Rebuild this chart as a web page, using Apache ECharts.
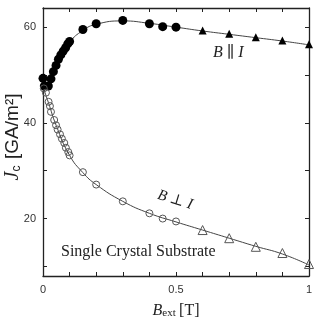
<!DOCTYPE html>
<html>
<head>
<meta charset="utf-8">
<script src="https://cdn.jsdelivr.net/npm/echarts@6/dist/echarts.min.js"></script>
<style>
  html, body { margin: 0; padding: 0; background: #fff; }
  #chart { width: 317px; height: 317px; }
</style>
</head>
<body>
<div id="chart"></div>
<script>
// B || I : filled circles (low field) and filled triangles (high field)
var parCircB = [0, 0.005, 0.02, 0.03, 0.039, 0.049, 0.058, 0.067, 0.076, 0.085, 0.093, 0.1, 0.15, 0.2, 0.3, 0.4, 0.45, 0.5];
var parCircJ = [49.3, 47.7, 47.7, 49.2, 50.7, 52.0, 53.3, 54.2, 55.0, 55.7, 56.5, 57.0, 59.5, 60.7, 61.4, 60.7, 60.1, 60.0];
var parTriB = [0.6, 0.7, 0.8, 0.9, 1.0];
var parTriJ = [59.3, 58.6, 57.9, 57.2, 56.4];

// B perp I : open circles and open triangles
var perpCircB = [0.003, 0.011, 0.021, 0.026, 0.03, 0.042, 0.049, 0.055, 0.064, 0.071, 0.08, 0.086, 0.095, 0.1, 0.15, 0.2, 0.3, 0.4, 0.45, 0.5];
var perpCircJ = [47.2, 46.3, 44.4, 43.5, 42.3, 40.6, 39.5, 38.6, 37.6, 36.7, 35.8, 34.8, 33.9, 33.2, 29.7, 27.1, 23.6, 21.1, 20.0, 19.4];
var perpTriB = [0.6, 0.7, 0.8, 0.9, 1.0];
var perpTriJ = [17.6, 15.9, 14.1, 12.8, 10.5];

// fit curves
var fitB = [0, 0.02, 0.05, 0.1, 0.15, 0.2, 0.3, 0.4, 0.5, 0.6, 0.7, 0.8, 0.9, 1.0];
var fitParJ = [47.5, 48.0, 52.0, 56.8, 59.3, 60.6, 61.3, 60.8, 60.0, 59.2, 58.5, 57.8, 57.1, 56.3];
var fitPerpJ = [47.5, 44.3, 39.4, 33.2, 29.6, 27.1, 23.6, 21.1, 19.3, 17.6, 15.9, 14.2, 12.6, 10.3];

var xLabels = [0, 0.5, 1];
var yTicks = [10, 20, 30, 40, 50, 60];
var yLabels = [20, 40, 60];

function pairs(xs, ys) {
  return xs.map(function (x, i) { return [x, ys[i]]; });
}

var serif = '"Liberation Serif", "DejaVu Serif", serif';
var sans = '"Liberation Sans", Arial, sans-serif';

var dom = document.getElementById('chart');
var myChart = echarts.init(dom);

var option = {
  animation: false,
  grid: { left: 43, right: 8, top: 8, bottom: 41, outerBoundsMode: 'none', containLabel: false },
  xAxis: [
    {
      type: 'value', min: 0, max: 1, interval: 0.1,
      axisLine: { onZero: false, lineStyle: { color: '#222', width: 1.3 } },
      axisTick: { inside: true, length: 4, lineStyle: { color: '#222' } },
      axisLabel: {
        customValues: xLabels, margin: 8, color: '#333', fontSize: 11, fontFamily: sans,
        formatter: function (v) { return String(v); }
      },
      splitLine: { show: false },
      name: '{b|B}{s|ext} {n|[T]}',
      nameLocation: 'middle', nameGap: 26,
      nameTextStyle: {
        rich: {
          b: { fontFamily: serif, fontStyle: 'italic', fontSize: 16, color: '#222' },
          s: { fontFamily: serif, fontSize: 11, color: '#222', padding: [6, 0, 0, 0] },
          n: { fontFamily: serif, fontSize: 16, color: '#222' }
        }
      }
    },
    {
      type: 'value', min: 0, max: 1, interval: 0.1, position: 'top',
      axisLine: { onZero: false, lineStyle: { color: '#222', width: 1.3 } },
      axisTick: { inside: true, length: 4, lineStyle: { color: '#222' } },
      axisLabel: { show: false },
      splitLine: { show: false }
    }
  ],
  yAxis: [
    {
      type: 'value', min: 8, max: 64,
      axisLine: { show: true, onZero: false, lineStyle: { color: '#222', width: 1.3 } },
      axisTick: { show: true, inside: true, length: 4, customValues: yTicks, lineStyle: { color: '#222' } },
      axisLabel: { customValues: yLabels, margin: 7, color: '#333', fontSize: 11, fontFamily: sans },
      splitLine: { show: false }
    },
    {
      type: 'value', min: 8, max: 64, position: 'right',
      axisLine: { show: true, onZero: false, lineStyle: { color: '#222', width: 1.3 } },
      axisTick: { show: true, inside: true, length: 4, customValues: yTicks, lineStyle: { color: '#222' } },
      axisLabel: { show: false },
      splitLine: { show: false }
    }
  ],
  series: [
    {
      name: 'fit par', type: 'line', smooth: true, showSymbol: false, z: 1,
      lineStyle: { color: '#444', width: 1 },
      data: pairs(fitB, fitParJ)
    },
    {
      name: 'fit perp', type: 'line', smooth: true, showSymbol: false, z: 1,
      lineStyle: { color: '#444', width: 1 },
      data: pairs(fitB, fitPerpJ)
    },
    {
      name: 'par circles', type: 'scatter', symbol: 'circle', symbolSize: 9, z: 3,
      itemStyle: { color: '#000', opacity: 1 },
      data: pairs(parCircB, parCircJ)
    },
    {
      name: 'par triangles', type: 'scatter', symbol: 'triangle', symbolSize: 8, z: 3,
      itemStyle: { color: '#000', opacity: 1 },
      data: pairs(parTriB, parTriJ)
    },
    {
      name: 'perp circles', type: 'scatter', symbol: 'circle', symbolSize: 7, z: 3,
      itemStyle: { color: 'transparent', borderColor: '#555', borderWidth: 1, opacity: 1 },
      data: pairs(perpCircB, perpCircJ)
    },
    {
      name: 'perp triangles', type: 'scatter', symbol: 'triangle', symbolSize: 9, z: 3,
      itemStyle: { color: 'transparent', borderColor: '#555', borderWidth: 1, opacity: 1 },
      data: pairs(perpTriB, perpTriJ)
    }
  ],
  graphic: [
    {
      // y axis title
      type: 'text', x: 13, y: 137, rotation: Math.PI / 2,
      style: {
        text: '{j|J}{s|c}  {n|[GA/m²]}', align: 'center', verticalAlign: 'middle',
        rich: {
          j: { fontFamily: serif, fontStyle: 'italic', fontSize: 20, fill: '#222' },
          s: { fontFamily: sans, fontSize: 12, fill: '#222', padding: [8, 0, 0, 0] },
          n: { fontFamily: sans, fontSize: 19, fill: '#222' }
        }
      }
    },
    {
      type: 'text', left: 213, top: 45,
      style: {
        text: '{i|B} ∥ {i|I}',
        rich: { i: { fontFamily: serif, fontStyle: 'italic', fontSize: 16, fill: '#222' } },
        fontFamily: serif, fontSize: 16, fill: '#222'
      }
    },
    {
      type: 'text', x: 175, y: 200, rotation: -0.3,
      style: {
        text: '{i|B} ⊥ {i|I}', align: 'center', verticalAlign: 'middle',
        rich: { i: { fontFamily: serif, fontStyle: 'italic', fontSize: 15, fill: '#222' } },
        fontFamily: serif, fontSize: 15, fill: '#222'
      }
    },
    {
      type: 'text', left: 61, top: 244,
      style: { text: 'Single Crystal Substrate', fontFamily: serif, fontSize: 16, fill: '#222' }
    }
  ]
};

myChart.setOption(option);
</script>
</body>
</html>
